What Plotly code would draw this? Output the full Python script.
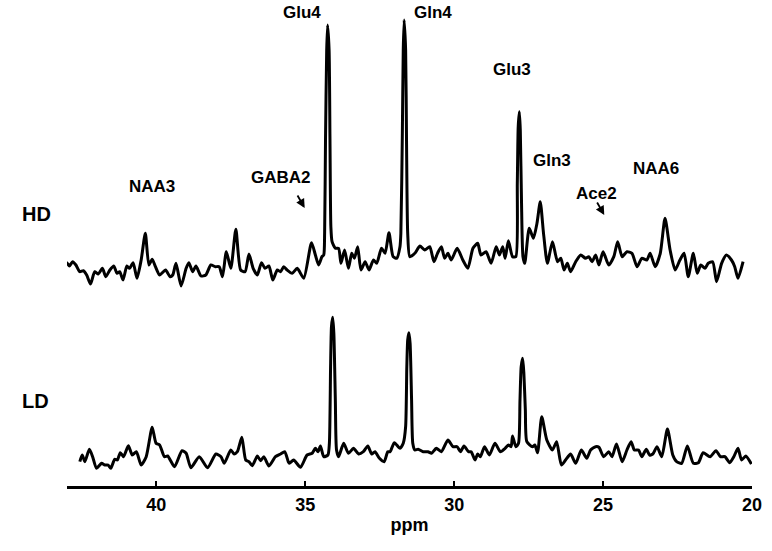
import plotly.graph_objects as go

# HD spectrum: chemical shift (ppm) and intensity (a.u., baseline = 0)
hd_ppm = [
    43.12, 43.01, 42.92, 42.81, 42.70, 42.57, 42.45, 42.34, 42.21, 42.07, 41.95, 41.81,
    41.70, 41.56, 41.43, 41.32, 41.23, 41.12, 40.99, 40.90, 40.78, 40.65, 40.51, 40.37,
    40.25, 40.14, 40.03, 39.89, 39.69, 39.54, 39.45, 39.34, 39.17, 39.00, 38.91, 38.78,
    38.67, 38.50, 38.34, 38.17, 38.02, 37.89, 37.78, 37.65, 37.50, 37.33, 37.17, 37.02,
    36.89, 36.75, 36.61, 36.47, 36.35, 36.22, 36.09, 35.94, 35.83, 35.72, 35.61, 35.44,
    35.27, 35.05, 34.79, 34.66, 34.55, 34.44, 34.38, 34.35, 34.32, 34.28, 34.25, 34.20,
    34.17, 34.14, 34.10, 33.99, 33.88, 33.80, 33.68, 33.55, 33.44, 33.35, 33.24, 33.13,
    32.99, 32.86, 32.71, 32.60, 32.44, 32.32, 32.19, 32.05, 31.93, 31.82, 31.79, 31.74,
    31.71, 31.68, 31.63, 31.60, 31.56, 31.49, 31.32, 31.15, 30.99, 30.82, 30.68, 30.56,
    30.43, 30.32, 30.21, 30.10, 29.90, 29.71, 29.54, 29.37, 29.21, 29.10, 28.93, 28.76,
    28.59, 28.48, 28.37, 28.29, 28.18, 28.04, 27.93, 27.88, 27.85, 27.81, 27.78, 27.74,
    27.69, 27.63, 27.48, 27.34, 27.22, 27.11, 27.00, 26.87, 26.70, 26.53, 26.42, 26.31,
    26.20, 26.09, 25.92, 25.75, 25.59, 25.48, 25.37, 25.25, 25.14, 25.00, 24.81, 24.64,
    24.51, 24.36, 24.20, 24.03, 23.86, 23.70, 23.53, 23.42, 23.25, 23.08, 22.92, 22.75,
    22.58, 22.42, 22.28, 22.14, 21.97, 21.84, 21.72, 21.58, 21.47, 21.32, 21.19, 21.02,
    20.86, 20.69, 20.58, 20.47, 20.30,
]
hd_int = [
    -5.3, 0.3, -3, 1.3, -2, -8.7, -7.7, -12, -21, -8.7, -11, -5.3,
    -13.7, -7, -3, -10.3, -8.7, -17, -3, -5.3, 0.3, -15.3, 3, 29.7,
    -2, 3.7, -3.7, -12, -7, -13.7, -12, -0.3, -23, -5.3, 0.3, -8.7,
    -3, -13, -12, -2, -3.7, -3.7, -13.7, 11.3, -5.3, 33.7, -7, -8.7,
    9, -5.3, -12, 0.3, -5.3, -3, -17, -7, -8.7, -3.7, -7, -10.3,
    -5.3, -15.3, 20.3, 8, -2, 6.3, 8, 29.7, 123, 213, 238, 213,
    123, 36.3, 21.3, 14.7, 14.7, -0.3, 13, -5.3, 9.7, 4.7, 16.3, -7,
    1.3, -7, 3, -0.3, 14.7, 9.7, 30.3, 6.3, 4.7, 16.3, 29.7, 129.7,
    213, 243, 213, 123, 29.7, 6.3, 9.7, 17, 13, 16.3, 1.3, 9.7,
    16.3, 4.7, 9.7, 3, 14.7, 3, -5.3, 14.7, 19.7, 8, 11.3, -0.3,
    16.3, 8, 16.3, 4.7, 22.3, 6.3, 6.3, 79.7, 136.3, 151.3, 133, 63,
    6.3, -0.3, 34.7, 24.7, 39.7, 61.3, 29.7, -0.3, 21.3, 1.3, 4.7, -7,
    -0.3, -8.7, 1.3, 8, 4.7, 6.3, 1.3, 8, -2, 11.3, -2, 6.3,
    21.3, 6.3, 11.3, 9.7, -3.7, 4.7, 3, 9.7, -3.7, 9.7, 44.7, 13,
    -7, 3, 9.7, -13.7, 9.7, -10.3, -2, -5.3, -0.3, 1.3, -18.7, -0.3,
    8, 3, -3.7, -15.3, 1.3,
]

# LD spectrum
ld_ppm = [
    42.57, 42.49, 42.40, 42.25, 42.14, 42.01, 41.84, 41.73, 41.62, 41.53, 41.40, 41.31,
    41.21, 41.10, 40.94, 40.81, 40.67, 40.51, 40.34, 40.14, 40.01, 39.89, 39.73, 39.62,
    39.39, 39.14, 39.00, 38.84, 38.56, 38.28, 38.00, 37.83, 37.72, 37.50, 37.39, 37.28,
    37.13, 37.00, 36.89, 36.78, 36.61, 36.50, 36.39, 36.22, 36.00, 35.83, 35.69, 35.57,
    35.53, 35.39, 35.16, 34.94, 34.77, 34.66, 34.57, 34.49, 34.38, 34.24, 34.19, 34.15,
    34.12, 34.08, 34.04, 33.99, 33.95, 33.88, 33.71, 33.55, 33.38, 33.21, 33.05, 32.90,
    32.77, 32.66, 32.51, 32.35, 32.23, 32.15, 32.01, 31.82, 31.71, 31.63, 31.59, 31.56,
    31.52, 31.48, 31.43, 31.39, 31.32, 31.21, 31.04, 30.88, 30.76, 30.60, 30.43, 30.21,
    30.04, 29.90, 29.79, 29.67, 29.52, 29.43, 29.30, 29.21, 29.12, 28.98, 28.82, 28.63,
    28.45, 28.29, 28.18, 28.09, 28.04, 27.93, 27.84, 27.79, 27.75, 27.70, 27.66, 27.61,
    27.56, 27.37, 27.29, 27.20, 27.06, 26.89, 26.70, 26.56, 26.40, 26.26, 26.09, 25.92,
    25.73, 25.55, 25.42, 25.25, 25.14, 24.98, 24.81, 24.70, 24.55, 24.36, 24.20, 24.06,
    23.95, 23.81, 23.70, 23.55, 23.44, 23.33, 23.19, 23.03, 22.84, 22.66, 22.53, 22.36,
    22.17, 21.97, 21.80, 21.64, 21.41, 21.21, 21.06, 20.91, 20.75, 20.61, 20.47, 20.35,
    20.21, 20.02,
]
ld_int = [
    -3.7, 3, -3.7, 8.7, 1.3, -10.3, -5.3, -7, -7, -10.3, -1.3, -2,
    5.3, 1.3, 12.3, 3, 6.3, -7, 1.3, 30.7, 14.7, 13, 1.3, 2,
    -8.7, 7.3, 4.7, -9.7, 1.3, -9.7, 4, 1.3, -5.3, 8, 4, 6.3,
    20.7, -2, -3.7, -7.7, 2, -2.7, 1.3, -8, 1.3, 4, 6.3, -3.7,
    -5.3, -2, -9.3, 3, 4.7, 9.7, 6.3, 12, 1.3, 3, 14.7, 91.3,
    131.3, 140.7, 124.7, 58, 8, 1.3, 14.7, 4.7, 9.7, 4, 6.3, 12,
    4, 6.3, -0.3, -3.7, 6.3, 6.3, 15.3, 9.7, 14.7, 31.3, 91.3, 118,
    125.3, 114.7, 58, 14.7, 8, 8.7, 6.3, 6.3, 4.7, 9.7, 6.3, 18,
    11.3, 11.3, 6.3, 12, 6.3, 6.3, -2, 4, 1.3, 11.3, 3, 14.7,
    6.3, 9.7, 13, 11.3, 22, 11.3, 14.7, 58, 91.3, 99.7, 84.7, 48,
    16.3, 11.3, 13, 5.3, 41.3, 18, 8, 16.3, -7, -2, 4, -5.3,
    8, -0.3, 8, 11.3, 10.7, 1.3, 6.3, 1.3, 14, -3.7, 8, 16.3,
    8, 8, 1.3, 8.7, 3, 4, 11.3, 1.3, 29, 3, -3.7, -5.3,
    12, -5.3, -4.7, 5.3, 1.3, 7.3, 1.3, 1.3, -4.7, 1.3, 9.7, -2,
    2, -6,
]

# peak labels: text, ppm, height
peak_labels = ["Glu4", "Gln4", "Glu3", "Gln3", "NAA6", "Ace2", "GABA2", "NAA3"]
label_ppm = [35.10, 30.70, 28.07, 26.70, 23.23, 25.21, 35.82, 40.16]
label_y = [474, 474, 417, 326, 317.5, 293, 308.5, 300]

# arrow heads (ppm, height) for the two weak resonances
arrow_ppm = [35.02, 24.96]
arrow_y = [278, 271]

ppm_ticks = [40, 35, 30, 25, 20]

HD_OFFSET = 223
LD_OFFSET = 28
FONT = "Liberation Sans, Arial, sans-serif"

fig = go.Figure()
for ppm, inten, off in [(hd_ppm, hd_int, HD_OFFSET), (ld_ppm, ld_int, LD_OFFSET)]:
    fig.add_trace(
        go.Scatter(
            x=ppm,
            y=[v + off for v in inten],
            mode="lines",
            line=dict(color="black", width=3, shape="spline", smoothing=0.6),
            showlegend=False,
            hoverinfo="skip",
        )
    )

for txt, x, y in zip(peak_labels, label_ppm, label_y):
    fig.add_annotation(x=x, y=y, text=f"<b>{txt}</b>", showarrow=False,
                       font=dict(family=FONT, size=17, color="black"))

for x, y in zip(arrow_ppm, arrow_y):
    fig.add_annotation(
        x=x, y=y, text="", showarrow=True, arrowhead=2, arrowsize=1,
        arrowwidth=1.8, arrowcolor="black", ax=-8, ay=-14,
    )

big = dict(family=FONT, size=20, color="black")
fig.add_annotation(xref="paper", yref="y", x=-0.068, y=272, text="<b>HD</b>",
                   showarrow=False, font=big)
fig.add_annotation(xref="paper", yref="y", x=-0.068, y=85, text="<b>LD</b>",
                   showarrow=False, font=big)

fig.update_layout(
    width=772,
    height=551,
    margin=dict(l=67, r=17, t=10, b=65),
    plot_bgcolor="white",
    paper_bgcolor="white",
    xaxis=dict(
        range=[43, 20],
        tickvals=ppm_ticks,
        ticktext=[f"<b>{t}</b>" for t in ppm_ticks],
        ticks="inside",
        ticklen=5,
        tickwidth=2,
        tickcolor="black",
        showline=True,
        linecolor="black",
        linewidth=3,
        showgrid=False,
        zeroline=False,
        tickfont=dict(family=FONT, size=18, color="black"),
        title=dict(text="<b>ppm</b>", standoff=5,
                   font=dict(family=FONT, size=18, color="black")),
    ),
    yaxis=dict(range=[0, 476], visible=False),
)

fig.write_html(
    "out.html",
    config={"displayModeBar": False},
    post_script="document.body.style.margin='0';",
)
